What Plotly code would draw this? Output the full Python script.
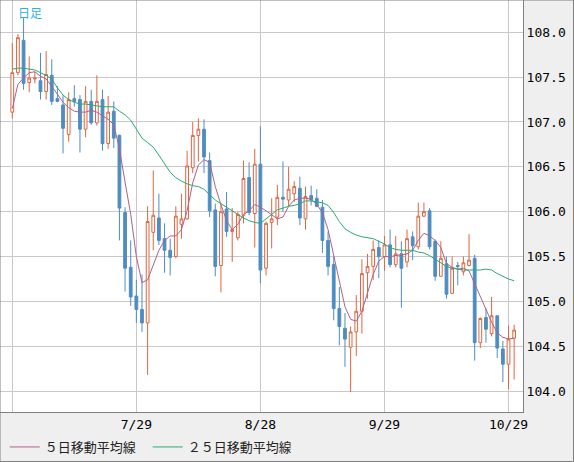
import plotly.graph_objects as go

# USD/JPY daily, 2020-06-29 .. 2020-10-30 (trading days, no gaps)
opens = [107.11, 107.55, 107.91, 107.44, 107.48, 107.46, 107.34, 107.52, 107.26, 107.19,
         106.86, 107.26, 107.25, 106.92, 107.23, 106.99, 107.25, 106.76, 107.12, 106.85,
         105.99, 105.38, 105.06, 104.91, 104.76, 105.77, 105.93, 105.70, 105.57, 105.50,
         105.86, 105.92, 106.49, 106.85, 106.92, 106.57, 106.02, 105.40, 106.03, 105.78,
         105.71, 105.96, 106.38, 105.98, 106.53, 105.37, 105.88, 105.94, 106.16, 106.13,
         106.20, 106.26, 105.92, 106.18, 106.15, 106.05, 105.68, 105.41, 104.92, 104.70,
         104.49, 104.66, 104.89, 105.32, 105.39, 105.60, 105.50, 105.63, 105.41, 105.53,
         105.44, 105.72, 105.61, 105.95, 106.01, 105.67, 105.28, 105.42, 105.09, 105.40,
         105.33, 105.40, 105.48, 104.54, 104.82, 104.64, 104.84, 104.47, 104.30, 104.59]
highs = [107.88, 107.98, 108.16, 107.73, 107.56, 107.77, 107.79, 107.70, 107.40, 107.30,
         107.33, 107.41, 107.30, 107.40, 107.36, 107.52, 107.36, 107.29, 107.23, 106.86,
         106.05, 105.68, 105.24, 105.30, 106.06, 106.46, 106.20, 105.87, 105.70, 106.06,
         106.20, 106.68, 107.00, 107.04, 107.03, 106.66, 106.09, 106.09, 106.22, 106.04,
         106.00, 106.57, 106.55, 106.70, 106.95, 105.89, 106.15, 106.30, 106.56, 106.50,
         106.34, 106.39, 106.28, 106.29, 106.25, 106.13, 105.78, 105.50, 105.16, 104.87,
         104.72, 105.07, 105.47, 105.53, 105.68, 105.68, 105.73, 105.80, 105.73, 105.67,
         105.80, 105.78, 106.10, 106.10, 106.04, 105.69, 105.67, 105.50, 105.50, 105.44,
         105.50, 105.75, 105.52, 104.82, 104.92, 105.05, 104.84, 104.56, 104.73, 104.74]
lows = [107.04, 107.52, 107.36, 107.33, 107.43, 107.25, 107.25, 107.19, 107.22, 106.65,
        106.78, 107.17, 106.66, 106.83, 106.97, 106.96, 106.68, 106.70, 106.71, 105.68,
        105.11, 104.95, 104.76, 104.66, 104.18, 105.57, 105.63, 105.32, 105.29, 105.48,
        105.70, 105.91, 106.43, 106.56, 106.43, 105.94, 105.28, 105.10, 105.72, 105.44,
        105.68, 105.87, 105.96, 105.60, 105.20, 105.29, 105.59, 105.85, 106.00, 106.06,
        106.11, 105.85, 105.80, 106.07, 106.05, 105.54, 105.29, 104.79, 104.51, 104.27,
        103.99, 104.39, 104.64, 105.03, 105.24, 105.26, 105.34, 105.38, 105.38, 104.93,
        105.38, 105.46, 105.58, 105.94, 105.58, 105.23, 105.28, 105.03, 105.08, 105.18,
        105.29, 105.39, 104.34, 104.48, 104.54, 104.61, 104.37, 104.10, 104.02, 104.13]
closes = [107.55, 107.94, 107.43, 107.49, 107.49, 107.34, 107.53, 107.23, 107.23, 106.93,
          107.25, 107.23, 106.92, 107.23, 106.99, 107.23, 106.76, 107.11, 106.82, 106.04,
          105.37, 105.05, 104.91, 104.76, 105.89, 105.96, 105.68, 105.57, 105.49, 105.95,
          105.92, 106.51, 106.85, 106.92, 106.61, 106.01, 105.39, 106.00, 105.78, 105.80,
          105.97, 106.37, 105.99, 106.53, 105.35, 105.87, 105.92, 106.16, 106.14, 106.25,
          106.28, 105.93, 106.17, 106.13, 106.06, 105.68, 105.39, 104.92, 104.72, 104.58,
          104.66, 104.89, 105.31, 105.39, 105.58, 105.50, 105.63, 105.41, 105.53, 105.37,
          105.70, 105.62, 105.95, 106.00, 105.61, 105.28, 105.48, 105.08, 105.37, 105.39,
          105.43, 105.46, 104.54, 104.81, 104.69, 104.84, 104.48, 104.30, 104.58, 104.68]

# moving averages as drawn on the chart
ma5 = [107.15, 107.42, 107.49, 107.55, 107.56, 107.51, 107.48, 107.40, 107.31, 107.22,
       107.16, 107.12, 107.11, 107.11, 107.13, 107.11, 107.07, 107.03, 106.97, 106.70,
       106.33, 105.97, 105.50, 105.21, 105.24, 105.40, 105.57, 105.68, 105.73, 105.73,
       105.80, 106.01, 106.32, 106.52, 106.58, 106.55, 106.28, 106.08, 105.90, 105.80,
       105.86, 105.97, 106.01, 106.08, 106.05, 106.01, 105.96, 105.92, 105.94, 106.06,
       106.13, 106.15, 106.15, 106.14, 106.08, 105.99, 105.80, 105.52, 105.21, 104.94,
       104.80, 104.78, 104.89, 105.09, 105.30, 105.45, 105.50, 105.50, 105.51, 105.52,
       105.53, 105.57, 105.68, 105.76, 105.73, 105.68, 105.60, 105.42, 105.38, 105.36,
       105.37, 105.34, 105.20, 105.04, 104.92, 104.77, 104.65, 104.60, 104.58, 104.59]
ma25 = [107.59, 107.60, 107.60, 107.59, 107.58, 107.55, 107.52, 107.48, 107.38, 107.30,
        107.25, 107.22, 107.20, 107.20, 107.19, 107.18, 107.17, 107.17, 107.17, 107.12,
        107.08, 107.02, 106.92, 106.82, 106.77, 106.72, 106.63, 106.53, 106.44, 106.38,
        106.34, 106.31, 106.29, 106.28, 106.25, 106.19, 106.13, 106.09, 106.05, 106.01,
        105.97, 105.93, 105.90, 105.88, 105.87, 105.92, 105.97, 106.02, 106.04, 106.06,
        106.07, 106.09, 106.12, 106.12, 106.11, 106.10, 106.07, 105.99, 105.89, 105.81,
        105.77, 105.74, 105.72, 105.71, 105.70, 105.67, 105.64, 105.60, 105.58, 105.57,
        105.57, 105.57, 105.55, 105.54, 105.51, 105.47, 105.43, 105.39, 105.37, 105.36,
        105.35, 105.35, 105.35, 105.35, 105.36, 105.35, 105.31, 105.28, 105.25, 105.23]

day = list(range(len(closes)))
tick_days = [0, 22, 44, 66, 88]
tick_dates = ["", "7/29", "8/28", "9/29", "10/29"]
price_ticks = [104.0, 104.5, 105.0, 105.5, 106.0, 106.5, 107.0, 107.5, 108.0]

UP = "#e0653f"
DOWN = "#4e8dc2"
GRID = "#c8c8c8"
mono = "DejaVu Sans Mono"
jp = "Noto Sans CJK JP"

fig = go.Figure()
fig.add_trace(go.Candlestick(
    x=day, open=opens, high=highs, low=lows, close=closes,
    increasing=dict(line=dict(color=UP, width=1), fillcolor="white"),
    decreasing=dict(line=dict(color=DOWN, width=1), fillcolor=DOWN),
    whiskerwidth=0, showlegend=False, hoverinfo="skip"))
fig.add_trace(go.Scatter(x=day, y=ma5, mode="lines", name="５日移動平均線",
                         line=dict(color="#b0608a", width=1)))
fig.add_trace(go.Scatter(x=day, y=ma25, mode="lines", name="２５日移動平均線",
                         line=dict(color="#2aaa6e", width=1)))

fig.update_layout(
    width=574, height=462,
    margin=dict(l=0, r=51, t=0, b=50),
    paper_bgcolor="#efefef", plot_bgcolor="white",
    font=dict(family=mono, size=13, color="black"),
    legend=dict(orientation="h", x=0.009, y=-0.085, yanchor="middle",
                font=dict(family=jp, size=13, color="#222"),
                bgcolor="rgba(0,0,0,0)", itemwidth=30,
                entrywidth=98, entrywidthmode="pixels"),
    annotations=[dict(text="日足", xref="paper", yref="paper", x=0.031, y=0.995,
                      xanchor="left", yanchor="top", showarrow=False,
                      font=dict(family=jp, size=12, color="#2fb2e8"))],
    shapes=[dict(type="rect", xref="paper", yref="paper", x0=0, x1=573.5 / 523,
                 y0=-49.5 / 412, y1=1, line=dict(color="#808080", width=1),
                 layer="above")],
)
fig.update_xaxes(range=[-2.18, 90.57], tickvals=tick_days, ticktext=tick_dates,
                 showgrid=True, gridcolor=GRID, gridwidth=1, zeroline=False,
                 showline=True, linecolor="#808080", linewidth=1, mirror=True,
                 ticks="", rangeslider=dict(visible=False), tickfont=dict(size=13))
fig.update_yaxes(range=[103.767, 108.360], tickvals=price_ticks,
                 ticktext=[f"{v:.1f}" for v in price_ticks], side="right",
                 showgrid=True, gridcolor=GRID, gridwidth=1, zeroline=False,
                 showline=True, linecolor="#808080", linewidth=1, mirror=True,
                 ticks="", tickfont=dict(size=13))

fig.write_html("out.html", config={"displayModeBar": False},
               post_script="document.body.style.margin='0';")
